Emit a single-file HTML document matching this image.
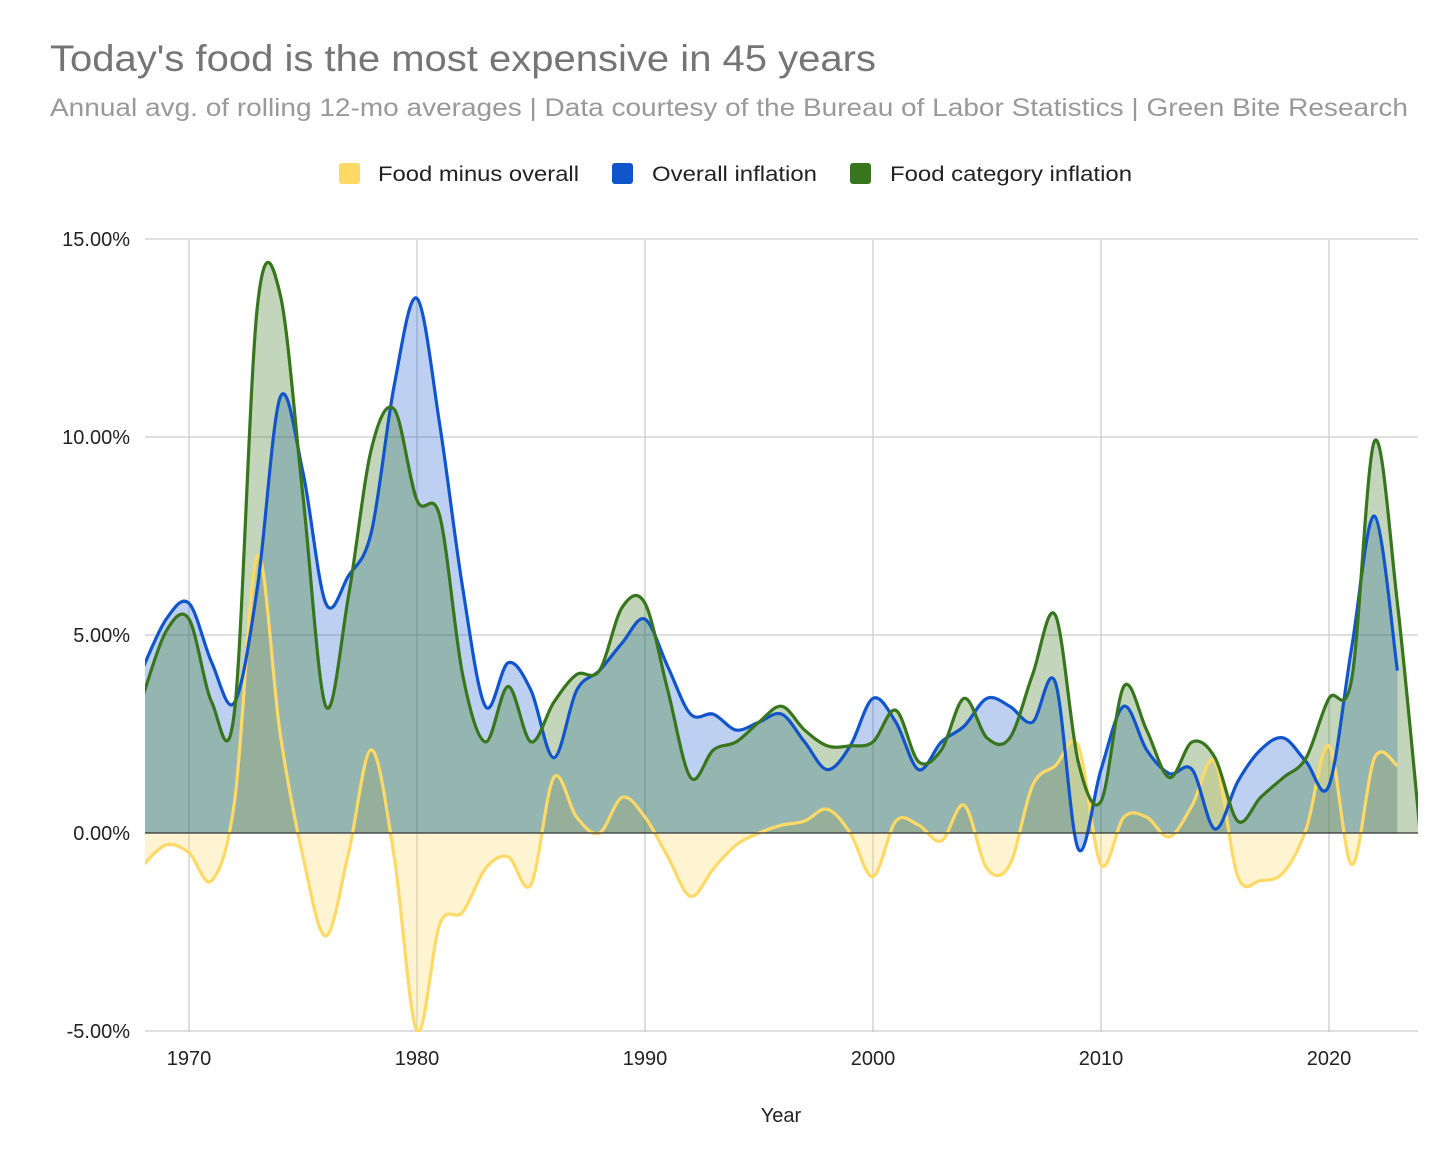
<!DOCTYPE html>
<html><head><meta charset="utf-8"><style>
body{margin:0;background:#fff;font-family:"Liberation Sans",Arial,sans-serif}
svg text{font-family:"Liberation Sans",Arial,sans-serif}
</style></head><body>
<svg id="c" width="1456" height="1156" xmlns="http://www.w3.org/2000/svg">
<rect width="1456" height="1156" fill="#fff"/>
<text x="50" y="71" font-size="37" fill="#757575" textLength="826" lengthAdjust="spacingAndGlyphs">Today's food is the most expensive in 45 years</text>
<text x="50" y="116" font-size="25" fill="#999" textLength="1358" lengthAdjust="spacingAndGlyphs">Annual avg. of rolling 12-mo averages | Data courtesy of the Bureau of Labor Statistics | Green Bite Research</text>
<g>
<g><rect x="339" y="163" width="21" height="21" rx="3" fill="#ffd966"/><text x="378" y="181" font-size="21" fill="#222" textLength="201" lengthAdjust="spacingAndGlyphs">Food minus overall</text></g>
<g><rect x="612" y="163" width="21" height="21" rx="3" fill="#1155cc"/><text x="652" y="181" font-size="21" fill="#222" textLength="165" lengthAdjust="spacingAndGlyphs">Overall inflation</text></g>
<g><rect x="850" y="163" width="21" height="21" rx="3" fill="#38761d"/><text x="890" y="181" font-size="21" fill="#222" textLength="242" lengthAdjust="spacingAndGlyphs">Food category inflation</text></g>
</g>
<g id="grid"></g>
<defs><clipPath id="pc"><rect x="145" y="200" width="1273" height="832"/></clipPath></defs>
<g id="plot" clip-path="url(#pc)"></g>
<g id="axes"></g>
<text x="781" y="1122" font-size="20" text-anchor="middle" fill="#222">Year</text>
</svg>
<script>
const years = [];
for (let y = 1968; y <= 2023; y++) years.push(y);
const overall = [4.2,5.4,5.8,4.3,3.3,6.2,11.0,9.1,5.8,6.5,7.6,11.3,13.5,10.3,6.2,3.2,4.3,3.6,1.9,3.6,4.1,4.8,5.4,4.2,3.0,3.0,2.6,2.8,3.0,2.3,1.6,2.2,3.4,2.8,1.6,2.3,2.7,3.4,3.2,2.8,3.8,-0.4,1.6,3.2,2.1,1.5,1.6,0.1,1.3,2.1,2.4,1.8,1.2,4.7,8.0,4.1];
const foodYears = [];
for (let y = 1968; y <= 2024; y++) foodYears.push(y);
const food = [3.5,5.1,5.4,3.3,3.1,13.3,13.6,8.5,3.2,6.0,9.7,10.7,8.4,8.0,4.0,2.3,3.7,2.3,3.3,4.0,4.1,5.7,5.8,3.6,1.4,2.1,2.3,2.8,3.2,2.6,2.2,2.2,2.3,3.1,1.8,2.1,3.4,2.4,2.4,4.0,5.5,1.8,0.8,3.7,2.6,1.4,2.3,1.9,0.3,0.9,1.4,1.9,3.4,3.9,9.9,5.8,0.0];
const diff = [-0.8,-0.3,-0.5,-1.2,0.8,7.0,2.5,-0.6,-2.6,-0.5,2.1,-0.6,-5.0,-2.3,-2.0,-0.9,-0.6,-1.3,1.4,0.4,0.0,0.9,0.4,-0.6,-1.6,-0.9,-0.3,0.0,0.2,0.3,0.6,0.0,-1.1,0.3,0.2,-0.2,0.7,-0.9,-0.8,1.2,1.7,2.2,-0.8,0.4,0.4,-0.1,0.7,1.8,-1.1,-1.2,-1.0,0.1,2.2,-0.8,1.9,1.7];
const yTicks = [15,10,5,0,-5];
const yTickLabels = ["15.00%","10.00%","5.00%","0.00%","-5.00%"];
const xTicks = [1970,1980,1990,2000,2010,2020];

const X = y => 189 + (y - 1970) * 22.8;
const Y = v => 833 - v * 39.6;
const NS = "http://www.w3.org/2000/svg";
function mk(tag, attrs, parent){const e=document.createElementNS(NS,tag);for(const k in attrs)e.setAttribute(k,attrs[k]);parent.appendChild(e);return e;}
const grid=document.getElementById('grid'), plot=document.getElementById('plot'), axes=document.getElementById('axes');

yTicks.forEach((t,i)=>{
  if(t!==0){const l=mk('line',{x1:145,x2:1418,y1:Y(t),y2:Y(t),stroke:'#cccccc','stroke-width':1.3},grid);
  
  }
  const tx=mk('text',{x:130,y:Y(t)+7,'font-size':20,'text-anchor':'end',fill:'#222'},axes);
  tx.textContent=yTickLabels[i];
  
  
});
xTicks.forEach(t=>{
  const l=mk('line',{x1:X(t),x2:X(t),y1:240,y2:1032,stroke:'#cccccc','stroke-width':1.3},grid);
  
  
  const tx=mk('text',{x:X(t),y:1065,'font-size':20,'text-anchor':'middle',fill:'#222'},axes);
  tx.textContent=t;
  
  
});

function curve(xs,vs){
  const p=xs.map((x,i)=>[X(x),Y(vs[i])]);
  let d=`M${p[0][0]},${p[0][1]}`;
  for(let i=0;i<p.length-1;i++){
    const p0=p[i-1]||p[i],p1=p[i],p2=p[i+1],p3=p[i+2]||p[i+1];
    const c1=[p1[0]+(p2[0]-p0[0])/6,p1[1]+(p2[1]-p0[1])/6];
    const c2=[p2[0]-(p3[0]-p1[0])/6,p2[1]-(p3[1]-p1[1])/6];
    d+=` C${c1[0]},${c1[1]} ${c2[0]},${c2[1]} ${p2[0]},${p2[1]}`;
  }
  return {d,first:p[0][0],last:p[p.length-1][0]};
}
function series(xs,vs,color,fill,name){
  const c=curve(xs,vs);
  const a=mk('path',{d:c.d+` L${c.last},${Y(0)} L${c.first},${Y(0)} Z`,fill:fill,stroke:'none'},plot);
  
  
  return ()=>{
    const l=mk('path',{d:c.d,fill:'none',stroke:color,'stroke-width':3.2},plot);
    
    
  };
}
const l1=series(years,diff,'#ffd966','rgba(255,217,102,0.3)','food-minus-overall');
const l2=series(years,overall,'#1155cc','rgba(17,85,204,0.28)','overall-inflation');
const l3=series(foodYears,food,'#38761d','rgba(56,118,29,0.3)','food-category-inflation');
l1();l2();l3();
const z=mk('line',{x1:145,x2:1418,y1:Y(0),y2:Y(0),stroke:'#333','stroke-width':1.3},axes);


</script>
</body></html>
